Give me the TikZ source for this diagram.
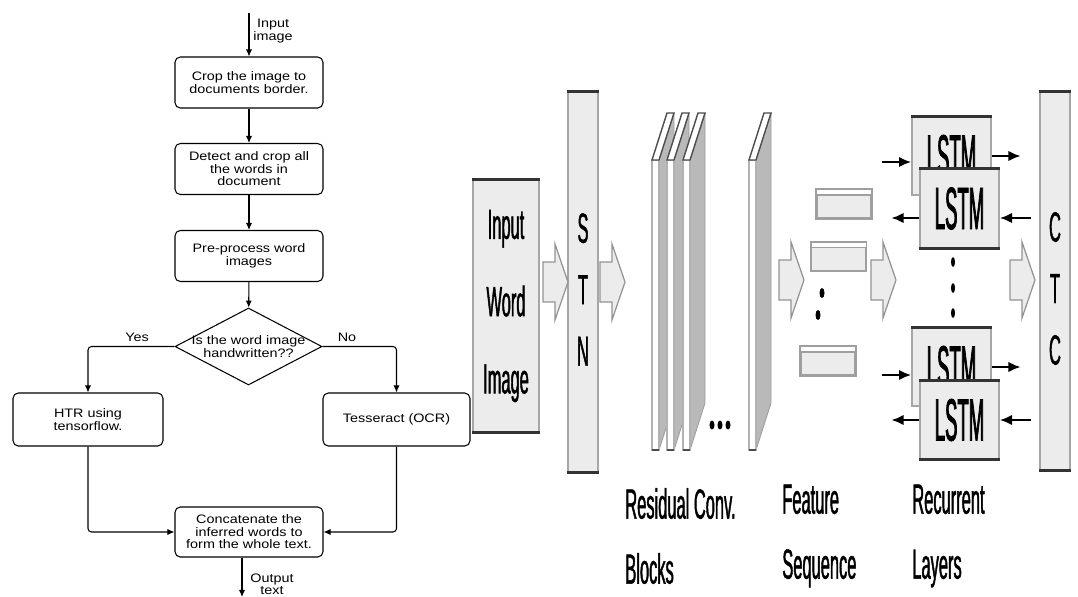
\documentclass[tikz,border=0pt]{standalone}
\usepackage{fontspec}
\setmainfont{Liberation Sans}
\newfontfamily\flowfont[FakeStretch=1.17]{Liberation Sans}
\newfontfamily\narrowfont[FakeStretch=0.39,FakeBold=1]{Liberation Sans}
\newfontfamily\lstmfont[FakeStretch=0.31,FakeBold=1.2]{Liberation Sans}
\usetikzlibrary{arrows.meta,shapes.geometric,positioning}

\tikzset{
  fatarrow/.pic={
    \draw[gray!85, fill=gray!15, line width=0.7pt] (0,-20) -- (12,-20) -- (12,-38) -- (25,0) -- (12,38) -- (12,20) -- (0,20) -- cycle;
  }
}

\begin{document}
\begin{tikzpicture}[x=0.02cm, y=-0.02cm,
  flowbox/.style={draw, rounded corners=3pt, line width=0.6pt, minimum width=2.96cm, minimum height=1.02cm, align=center, inner sep=1pt, font=\flowfont\fontsize{7}{7.1}\selectfont},
  flowtext/.style={align=center, inner sep=0pt, font=\flowfont\fontsize{7}{7.1}\selectfont},
  flow/.style={line width=0.6pt, -{Latex[length=4pt,width=3.5pt]}},
  panel/.style={draw=gray!70, fill=gray!15, line width=0.8pt, inner sep=0pt},
  bigtext/.style={align=center, inner sep=0pt, font=\narrowfont\fontsize{24}{35}\selectfont},
  biglabel/.style={align=left, inner sep=0pt, anchor=west, font=\narrowfont\fontsize{24}{37}\selectfont},
  featbox/.style={draw=gray!75, fill=gray!15, line width=1pt, minimum width=1.08cm, minimum height=0.56cm, inner sep=0pt},
  lstmbox/.style={draw=gray!70, fill=gray!15, line width=0.8pt, minimum width=1.58cm, minimum height=1.56cm, inner sep=0pt, font=\lstmfont\fontsize{34}{34}\selectfont},
  edge/.style={line width=1.6pt, black!80},
  larrow/.style={line width=1.5pt, -{Latex[length=7pt,width=6pt]}}]

  \useasboundingbox (0,0) rectangle (1078,596);

  % Flowchart
  \node[flowbox] (crop) at (249,82.5) {Crop the image to\\documents border.};
  \node[flowbox] (detect) at (249,169) {Detect and crop all\\the words in\\document};
  \node[flowbox] (prep) at (249,256) {Pre-process word\\images};
  \node[draw, diamond, line width=0.6pt, minimum width=2.94cm, minimum height=1.54cm, inner sep=0pt] (check) at (248.5,346.5) {};
  \node[flowtext] (checklbl) at (check) {Is the word image\\handwritten??};
  \node[flowbox, minimum width=3cm, minimum height=1.06cm] (htr) at (88,419.5) {HTR using\\tensorflow.};
  \node[flowbox, minimum width=2.94cm, minimum height=1.06cm] (ocr) at (396.5,419.5) {Tesseract (OCR)};
  \node[flowbox, minimum height=1cm] (concat) at (249,532) {Concatenate the\\inferred words to\\form the whole text.};

  \node[flowtext] (yes) at (137,337) {Yes};
  \node[flowtext] (no) at (347,337) {No};
  \node[flowtext] (inlbl) at (273,31) {Input\\image};
  \node[flowtext] (outlbl) at (272,584) {Output\\text};

  \coordinate (in) at (249,13);
  \coordinate (out) at (242,597);
  \draw[flow] (in) -- (crop);
  \draw[flow] (crop) -- (detect);
  \draw[flow] (detect) -- (prep);
  \draw[flow] (prep) -- (check);
  \draw[flow, rounded corners=2pt] (check.west) -| (htr.north);
  \draw[flow, rounded corners=2pt] (check.east) -| (ocr.north);
  \draw[flow, rounded corners=2pt] (htr.south) |- (concat.west);
  \draw[flow, rounded corners=2pt] (ocr.south) |- (concat.east);
  \draw[flow] (concat.south -| out) -- (out);

  % Input image and STN
  \node[panel, minimum width=1.32cm, minimum height=5.04cm, align=center, font=\narrowfont\fontsize{24}{44}\selectfont] (img) at (506,306) {Input\\Word\\Image};
  \node[panel, minimum width=0.6cm, minimum height=7.6cm] (stn) at (583,282) {};
  \node[bigtext] (stnlbl) at (583,289.5) {S\\T\\N};
  \foreach \n in {img,stn}
    \draw[edge] (\n.north west) -- (\n.north east) (\n.south west) -- (\n.south east);

  \pic at (543,282) {fatarrow};
  \pic at (600,282) {fatarrow};

  % Residual conv. blocks
  \foreach \x in {652,667,683,749}{
    \fill[gray!55] (\x+7,160) -- (\x+22,113) -- (\x+22,403) -- (\x+7,450) -- cycle;
    \draw[gray!75, line width=0.5pt] (\x+22,113) -- (\x+22,403) -- (\x+7,450);
    \draw[gray!60, fill=white, line width=0.6pt] (\x,160) rectangle (\x+7,450);
    \draw[black!70, line width=0.8pt] (\x,450) -- (\x+7,450);
    \draw[black!70, fill=white, line width=0.8pt] (\x,160) -- (\x+15,113) -- (\x+22,113) -- (\x+7,160) -- cycle;
  }
  \foreach \x in {712,720,728}
    \fill (\x,425) ellipse [x radius=2.5, y radius=4.5];

  \pic at (779,280) {fatarrow};

  % Feature sequence
  \node[featbox] (feat1) at (844,204) {};
  \node[featbox] (feat2) at (838.5,256.5) {};
  \node[featbox] (feat3) at (828,361) {};
  \foreach \n in {feat1,feat2,feat3}{
    \fill[white] (\n.north west) rectangle ([yshift=-0.12cm]\n.north east);
    \draw[gray!75, line width=0.8pt] ([yshift=-0.12cm]\n.north west) -- ([yshift=-0.12cm]\n.north east);
    \draw[gray!75, line width=1pt] (\n.north west) rectangle (\n.south east);
  }
  \fill (822,293) ellipse [x radius=2.5, y radius=5];
  \fill (818,315) ellipse [x radius=2.5, y radius=5];

  \pic at (871,280) {fatarrow};

  % Recurrent layers
  \node[lstmbox] (fwdA) at (951.5,156) {LSTM};
  \draw[edge] (fwdA.north west) -- (fwdA.north east);
  \node[lstmbox] (bwdA) at (959.5,208.5) {LSTM};
  \draw[edge] (bwdA.north west) -- (bwdA.north east) (bwdA.south west) -- (bwdA.south east);
  \node[lstmbox] (fwdB) at (951.5,367) {LSTM};
  \draw[edge] (fwdB.north west) -- (fwdB.north east);
  \node[lstmbox] (bwdB) at (959.5,420) {LSTM};
  \draw[edge] (bwdB.north west) -- (bwdB.north east) (bwdB.south west) -- (bwdB.south east);

  \draw[larrow] ([xshift=-0.58cm,yshift=-0.12cm]fwdA.west) -- ([yshift=-0.12cm]fwdA.west);
  \draw[larrow] (fwdA.east) -- ++(29,0);
  \draw[larrow] ([yshift=-0.19cm]bwdA.west) -- ++(-28,0);
  \draw[larrow] ([xshift=0.62cm,yshift=-0.19cm]bwdA.east) -- ([yshift=-0.19cm]bwdA.east);
  \draw[larrow] ([xshift=-0.58cm,yshift=-0.16cm]fwdB.west) -- ([yshift=-0.16cm]fwdB.west);
  \draw[larrow] (fwdB.east) -- ++(29,0);
  \draw[larrow] (bwdB.west) -- ++(-28,0);
  \draw[larrow] ([xshift=0.62cm]bwdB.east) -- (bwdB.east);

  \foreach \y in {262,288,313}
    \fill (953,\y) ellipse [x radius=2, y radius=5];

  \pic at (1010,280) {fatarrow};

  % CTC
  \node[panel, minimum width=0.6cm, minimum height=7.56cm] (ctc) at (1055,281) {};
  \node[bigtext] (ctclbl) at (1055,288.5) {C\\T\\C};
  \draw[edge] (ctc.north west) -- (ctc.north east) (ctc.south west) -- (ctc.south east);

  % Labels
  \node[biglabel] (convlbl) at (625,536) {Residual Conv.\\Blocks};
  \node[biglabel] (featlbl) at (782,536) {Feature\\Sequence};
  \node[biglabel] (rnnlbl) at (912,536) {Recurrent\\Layers};

\end{tikzpicture}
\end{document}
